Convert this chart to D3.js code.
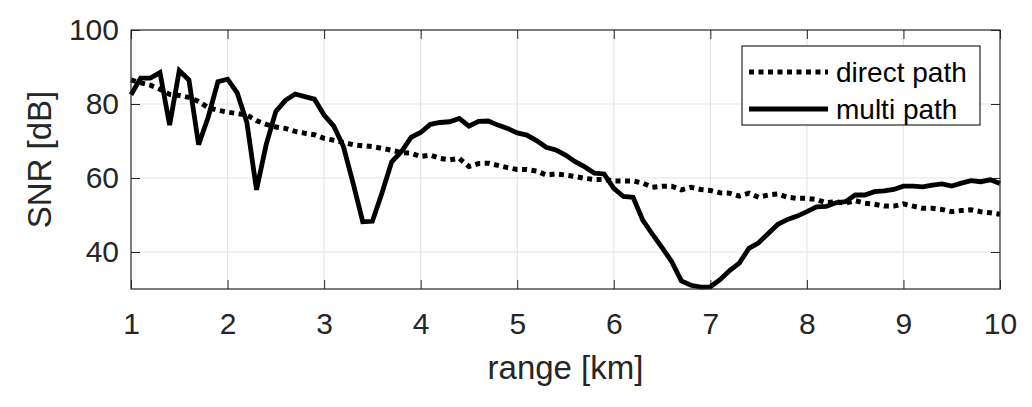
<!DOCTYPE html>
<html>
<head>
<meta charset="utf-8">
<script src="https://cdn.jsdelivr.net/npm/d3@7"></script>
<style>
  html, body { margin: 0; padding: 0; background: #fff; }
  svg { display: block; }
  text { font-family: "Liberation Sans", Arial, Helvetica, sans-serif; }
</style>
</head>
<body>
<svg id="chart" width="1032" height="407"></svg>
<script>
// ---- data ----
const rangeKm = d3.range(91).map(i => +(1 + i * 0.1).toFixed(1));
const directPath = [
  86.5, 85.7, 85.1, 84.0, 82.6, 82.3, 81.8, 80.7, 79.0, 78.3,
  77.8, 77.4, 77.0, 75.5, 74.5, 73.8, 73.4, 72.6, 72.1, 71.7,
  70.7, 70.2, 69.6, 69.0, 68.7, 68.5, 68.0, 67.5, 66.9, 66.7,
  65.8, 66.2, 65.3, 64.9, 65.3, 63.1, 63.9, 64.0, 63.4, 62.8,
  62.3, 62.3, 61.9, 60.8, 61.1, 60.8, 60.4, 59.9, 59.6, 59.6,
  59.2, 59.2, 59.2, 58.6, 57.5, 57.8, 57.8, 56.8, 57.5, 56.9,
  56.6, 56.0, 55.9, 55.1, 55.9, 54.8, 55.4, 55.7, 54.8, 54.5,
  54.5, 54.2, 53.3, 53.6, 53.2, 53.9, 53.2, 52.9, 52.4, 52.4,
  53.0, 52.4, 51.8, 51.8, 51.5, 50.9, 51.2, 51.4, 50.9, 50.6,
  50.2
];
const multiPath = [
  82.5, 87.0, 87.0, 88.5, 74.3, 89.0, 86.5, 69.0, 76.5, 86.0,
  86.7, 83.0, 75.0, 56.8, 69.0, 78.0, 81.0, 82.7, 82.0, 81.3,
  77.0, 74.0, 68.5, 58.6, 48.2, 48.3, 56.0, 64.4, 67.1, 71.0,
  72.3, 74.5, 75.0, 75.2, 76.1, 74.0, 75.3, 75.4, 74.3, 73.4,
  72.2, 71.6, 70.1, 68.3, 67.6, 66.2, 64.4, 63.0, 61.3, 61.1,
  57.2, 55.0, 54.8, 48.6, 44.8, 41.2, 37.4, 32.2, 31.0, 30.5,
  30.6, 32.5, 35.0, 37.0, 41.0, 42.5, 45.0, 47.5, 48.8, 49.7,
  50.9, 52.2, 52.3, 53.3, 53.6, 55.4, 55.4, 56.3, 56.5, 56.9,
  57.8, 57.8, 57.6, 58.1, 58.4, 57.8, 58.6, 59.3, 59.0, 59.5,
  58.5
];
const xTicks = [1, 2, 3, 4, 5, 6, 7, 8, 9, 10];
const yTicks = [40, 60, 80, 100];
const seriesNames = ["direct path", "multi path"];

// ---- layout ----
const svg = d3.select("#chart");
const pL = 131, pR = 1000, pT = 30, pB = 289;
const x = d3.scaleLinear().domain([1, 10]).range([pL, pR]);
const y = d3.scaleLinear().domain([30, 100]).range([pB, pT]);
const axisColor = "#262626";
const gridColor = "#e6e6e6";

// grid
const g = svg.append("g");
g.selectAll(".vgrid").data(xTicks.slice(1, -1)).join("line")
  .attr("x1", d => x(d)).attr("x2", d => x(d))
  .attr("y1", pT).attr("y2", pB)
  .attr("stroke", gridColor).attr("stroke-width", 1.2);
g.selectAll(".hgrid").data(yTicks.filter(d => d < 100)).join("line")
  .attr("x1", pL).attr("x2", pR)
  .attr("y1", d => y(d)).attr("y2", d => y(d))
  .attr("stroke", gridColor).attr("stroke-width", 1.2);

// axes (ticks inward)
const tickLen = 9;
const xAxisB = d3.axisBottom(x).tickValues(xTicks).tickSize(-tickLen).tickPadding(24);
const xAxisT = d3.axisTop(x).tickValues(xTicks).tickSize(-tickLen).tickFormat("");
const yAxisL = d3.axisLeft(y).tickValues(yTicks).tickSize(-tickLen).tickPadding(12);
const yAxisR = d3.axisRight(y).tickValues(yTicks).tickSize(-tickLen).tickFormat("");

function styleAxis(sel) {
  sel.select(".domain").remove();
  sel.selectAll(".tick line").attr("stroke", axisColor).attr("stroke-width", 1);
  sel.selectAll(".tick text").attr("fill", axisColor)
    .style("font-family", '"Liberation Sans", Arial, sans-serif')
    .style("font-size", "30px");
}
svg.append("g").attr("transform", `translate(0,${pB})`).call(xAxisB).call(styleAxis);
svg.append("g").attr("transform", `translate(0,${pT})`).call(xAxisT).call(styleAxis);
svg.append("g").attr("transform", `translate(${pL},0)`).call(yAxisL).call(styleAxis);
svg.append("g").attr("transform", `translate(${pR},0)`).call(yAxisR).call(styleAxis);

// lines
const line = (vals) => d3.line().x((d, i) => x(rangeKm[i])).y(d => y(d))(vals);
svg.append("path").attr("d", line(directPath))
  .attr("fill", "none").attr("stroke", "#000").attr("stroke-width", 5)
  .attr("stroke-dasharray", "5 4.5");
svg.append("path").attr("d", line(multiPath))
  .attr("fill", "none").attr("stroke", "#000").attr("stroke-width", 4.8)
  .attr("stroke-linejoin", "miter");

// box
svg.append("rect").attr("x", pL).attr("y", pT)
  .attr("width", pR - pL).attr("height", pB - pT)
  .attr("fill", "none").attr("stroke", axisColor).attr("stroke-width", 1.2);

// axis labels
svg.append("text").attr("x", (pL + pR) / 2).attr("y", 379)
  .attr("text-anchor", "middle").attr("fill", axisColor)
  .style("font-size", "33px").text("range [km]");
svg.append("text")
  .attr("transform", `translate(51,${(pT + pB) / 2}) rotate(-90)`)
  .attr("text-anchor", "middle").attr("fill", axisColor)
  .style("font-size", "33px").text("SNR [dB]");

// legend
const lg = svg.append("g");
lg.append("rect").attr("x", 742).attr("y", 46).attr("width", 238).attr("height", 79)
  .attr("fill", "#fff").attr("stroke", axisColor).attr("stroke-width", 1.2);
const legRows = [
  { name: seriesNames[0], dash: "5 4.5", cy: 72 },
  { name: seriesNames[1], dash: null, cy: 109 }
];
legRows.forEach(r => {
  const l = lg.append("line").attr("x1", 749).attr("x2", 828)
    .attr("y1", r.cy).attr("y2", r.cy)
    .attr("stroke", "#000").attr("stroke-width", 5);
  if (r.dash) l.attr("stroke-dasharray", r.dash);
  lg.append("text").attr("x", 836).attr("y", r.cy + 10)
    .attr("fill", "#000").style("font-size", "28px").text(r.name);
});
</script>
</body>
</html>
